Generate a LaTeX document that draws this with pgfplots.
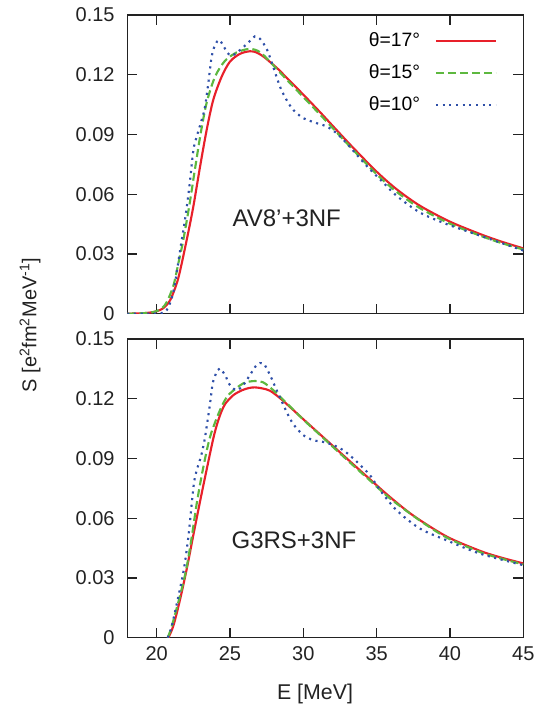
\documentclass[border=0pt]{standalone}
\usepackage{fontspec}
\setmainfont{Liberation Sans}
\usepackage{pgfplots}
\pgfplotsset{compat=1.18}
\definecolor{cred}{HTML}{E8202A}
\definecolor{cgreen}{HTML}{5DB83F}
\definecolor{cblue}{HTML}{2E4FA8}
\definecolor{frame}{HTML}{222222}

\pgfplotsset{
  panel/.style={
    scale only axis, width=297pt, height=224pt,
    xmin=18, xmax=45, ymin=0, ymax=0.15,
    xtick={20,25,30,35,40,45},
    ytick={0,0.03,0.06,0.09,0.12,0.15},
    yticklabels={0,0.03,0.06,0.09,0.12,0.15},
    /pgf/number format/assume math mode=true,
    tick align=inside, xtick pos=both, ytick pos=both,
    major tick length=7.5pt,
    axis line style={frame, line width=1.1pt},
    every tick/.style={frame, line width=1pt},
    tick label style={font=\fontsize{15}{18}\selectfont, text=frame},
    yticklabel style={xshift=-6pt},
    xticklabel style={yshift=-3pt},
  },
  r17/.style={cred, line width=1.6pt, smooth, tension=0.5},
  g15/.style={cgreen, line width=1.6pt, smooth, tension=0.5, dash pattern=on 6pt off 3pt},
  b10/.style={cblue, line width=1.6pt, smooth, tension=0.5, line cap=butt, dash pattern=on 1.6pt off 3.4pt},
}

\begin{document}
\begin{tikzpicture}
\path[use as bounding box] (-95.5pt,11.25pt) rectangle (322.3pt,-516.75pt);

% upper panel: AV8'+3NF
\begin{axis}[panel, name=top, at={(0,0)}, anchor=north west,
  xticklabels={},
  legend plot pos=right,
  legend image code/.code={\draw[#1] (0pt,0pt) -- (45pt,0pt);},
  legend style={draw=none, fill=none, at={(axis description cs:0.934,0.945)},
    anchor=north east, inner sep=0pt, row sep=10pt, column sep=11pt,
    font=\fontsize{14.5}{17}\selectfont,
    nodes={inner sep=0pt, text height=11pt, text depth=3pt}},
  legend cell align=right]
\addplot[r17] coordinates {
(18,0) (19,0.0002) (19.6,0.0006) (20,0.0012) (20.4,0.0025) (20.7,0.0045) (21.0,0.008)
(21.48,0.018) (22.05,0.0371) (22.5,0.0538) (22.96,0.0739) (23.41,0.0923) (23.86,0.1074)
(24.43,0.1190) (25.0,0.1266) (25.68,0.1305) (26.36,0.1318) (26.8,0.1312)
(27.27,0.1292) (27.73,0.1264) (28.3,0.1227) (28.86,0.1185) (30,0.1100) (31.14,0.1012)
(32.27,0.0922) (33.4,0.0833) (35,0.0713) (36.36,0.0625) (37.95,0.0542) (40,0.0462)
(42.05,0.0400) (43.5,0.0362) (45,0.0328)
};
\addlegendentry{θ=17°}
\addplot[g15] coordinates {
(18,0) (19,0.0002) (19.6,0.0006) (20,0.0013) (20.4,0.003) (20.7,0.006) (21.14,0.014)
(21.5,0.026) (21.82,0.0371) (22.23,0.0545) (22.62,0.0730) (23.0,0.0905) (23.41,0.1060)
(23.98,0.1190) (24.66,0.1270) (25.45,0.1312) (26.14,0.1328) (26.5,0.1329) (26.9,0.1320)
(27.27,0.1300) (27.73,0.1265) (28.3,0.1220) (28.86,0.1176) (30,0.1088) (31.14,0.1000)
(32.27,0.0911) (33.4,0.0822) (35,0.0700) (36.36,0.0612) (37.95,0.0530) (40,0.0452)
(42.05,0.0392) (43.5,0.0355) (45,0.0322)
};
\addlegendentry{θ=15°}
\addplot[b10] coordinates {
(18,0) (19.5,0) (20.2,0.0002) (20.68,0.0017) (21.14,0.011) (21.64,0.0338) (21.93,0.0471)
(22.23,0.0638) (22.5,0.0820) (22.73,0.0889) (23.07,0.0973) (23.3,0.1040) (23.52,0.1157)
(23.75,0.1291) (23.98,0.1349) (24.25,0.1375) (24.55,0.1346) (24.82,0.131) (25.11,0.1296)
(25.45,0.131) (25.9,0.1338) (26.36,0.137) (26.7,0.1393) (27.05,0.138) (27.5,0.133)
(27.84,0.1263) (28.41,0.114) (28.86,0.1073) (29.32,0.1023) (30,0.0982) (30.9,0.0957)
(31.6,0.094) (32.27,0.0906) (32.95,0.0856) (34.32,0.0742) (35.23,0.0675) (36.36,0.0592)
(37.95,0.0508) (39.77,0.045) (42.05,0.0392) (45,0.0317)
};
\addlegendentry{θ=10°}
\node[font=\fontsize{18}{21}\selectfont, text=frame] at (axis cs:28.87,0.0481) {AV8’+3NF};
\end{axis}

% lower panel: G3RS+3NF
\begin{axis}[panel, name=bottom, at={(0,-243pt)}, anchor=north west,
  xlabel={E [MeV]},
  xlabel style={font=\fontsize{16}{19}\selectfont, text=frame,
    at={(axis description cs:0.474,0)}, anchor=center, yshift=-42pt}]
\addplot[r17] coordinates {
(20.8,0) (21.14,0.006) (21.59,0.019) (22.05,0.0345) (22.5,0.0515) (22.96,0.0685)
(23.41,0.0845) (23.86,0.1000) (24.15,0.1080) (24.43,0.1138) (24.7,0.1177) (25.23,0.1218)
(25.8,0.1242) (26.3,0.1254) (26.7,0.1257) (27.2,0.1252) (27.73,0.1240) (28.41,0.1203)
(29.2,0.1151) (30,0.1097) (31.14,0.1021) (32.27,0.0946) (33.4,0.0871) (34.55,0.0795)
(35.9,0.0707) (37.5,0.0613) (39.77,0.0508) (42.05,0.0436) (43.5,0.0402) (45,0.0373)
};
\addplot[g15] coordinates {
(20.75,0) (21.0,0.005) (21.5,0.0185) (22.0,0.0337) (22.39,0.0505) (22.73,0.0673)
(23.14,0.0841) (23.64,0.1008) (24.32,0.1143) (24.89,0.1218) (25.9,0.1277) (26.7,0.1289)
(27.27,0.1282) (27.95,0.1243) (28.86,0.1178) (30,0.1095) (31.14,0.1018)
(32.27,0.0941) (33.4,0.0865) (34.55,0.0789) (35.9,0.0700) (37.95,0.0588) (39.77,0.0503)
(42.05,0.0430) (43.5,0.0397) (45,0.0368)
};
\addplot[b10] coordinates {
(20.75,0) (21.0,0.005) (21.4,0.018) (21.84,0.0337) (22.16,0.0505) (22.39,0.0673)
(22.55,0.0780) (22.73,0.0841) (22.9,0.0880) (23.07,0.0925) (23.3,0.1008) (23.64,0.1176)
(23.82,0.1277) (24.05,0.1327) (24.3,0.1352) (24.66,0.1319) (25.0,0.1268) (25.45,0.1243)
(25.9,0.1268) (26.36,0.1319) (26.82,0.1369) (27.27,0.1378) (27.73,0.1319) (28.18,0.1243)
(28.86,0.1134) (29.32,0.1072) (30,0.1017) (30.68,0.0992) (31.36,0.0983) (32.05,0.0967)
(32.73,0.0941) (33.41,0.090) (34.1,0.085) (34.55,0.0816) (35.23,0.0741) (36.36,0.064)
(37.95,0.0548) (39.77,0.0489) (42.05,0.0422) (45,0.0364)
};
\node[font=\fontsize{18}{21}\selectfont, text=frame] at (axis cs:29.36,0.0488) {G3RS+3NF};
\end{axis}

\node[rotate=90, font=\fontsize{15}{18}\selectfont, text=frame] at (-73pt,-232.5pt)
  {S [e\textsuperscript{2}fm\textsuperscript{2}MeV\textsuperscript{-1}]};
\end{tikzpicture}
\end{document}
